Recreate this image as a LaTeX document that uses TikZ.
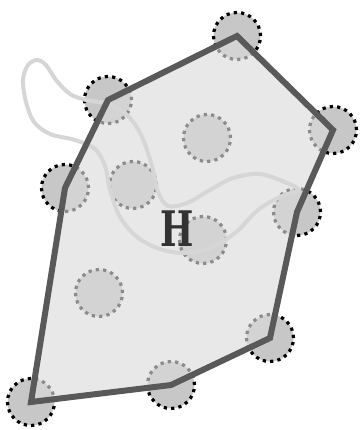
\documentclass[tikz,border=0pt]{standalone}
\usepackage{fontspec}
\newfontfamily\hfont{DejaVu Serif}
\begin{document}
\begin{tikzpicture}[x=1pt,y=-1pt,
  pt/.style={circle, minimum size=47pt, inner sep=0pt, outer sep=0pt, fill=black!22, draw=black, line width=3.2pt, dash pattern=on 3.2pt off 4.18pt},
  hullfill/.style={fill=black!14, fill opacity=0.64},
  hullline/.style={draw=black!65, line width=6pt},
  curve/.style={draw=black!16, line width=4pt}]
\useasboundingbox (0,0) rectangle (359,430);
% hull points
\node[pt] (A) at (237,36) {};
\node[pt] (B) at (333,130) {};
\node[pt] (C) at (297,212) {};
\node[pt] (D) at (270,338) {};
\node[pt] (E) at (171,385) {};
\node[pt] (F) at (31,402) {};
\node[pt] (G) at (65,188) {};
\node[pt] (V) at (108,100) {};
% interior points
\node[pt] (I1) at (207,138) {};
\node[pt] (I2) at (133,185) {};
\node[pt] (I3) at (203,240) {};
\node[pt] (I4) at (99,293) {};
% hull fill
\fill[hullfill] (A.center) -- (B.center) -- (C.center) -- (D.center) -- (E.center) -- (F.center) -- (G.center) -- (V.center) -- cycle;
% curve
\draw[curve] plot[smooth cycle, tension=0.55] coordinates {
 (298,190) (287,183) (260,174) (233,178) (210,190) (187,203) (168,206) (158,192) (153,170) (147,150) (139,131) (127,115) (108,104) (86,100) (70,94) (56,80) (46,65) (37,60) (28,65) (23,80) (26,102) (34,122) (50,134) (75,140) (95,149) (105,166) (110,190) (120,217) (137,237) (160,249) (185,253) (210,248) (235,233) (258,210) (280,197)};
% hull boundary
\draw[hullline] (A.center) -- (B.center) -- (C.center) -- (D.center) -- (E.center) -- (F.center) -- (G.center) -- (V.center) -- cycle;
% label
\node[inner sep=0pt, text=black!80] (lbl) at (177,229) {\scalebox{0.72}[1]{\hfont\bfseries\fontsize{49}{49}\selectfont H}};
\end{tikzpicture}
\end{document}
